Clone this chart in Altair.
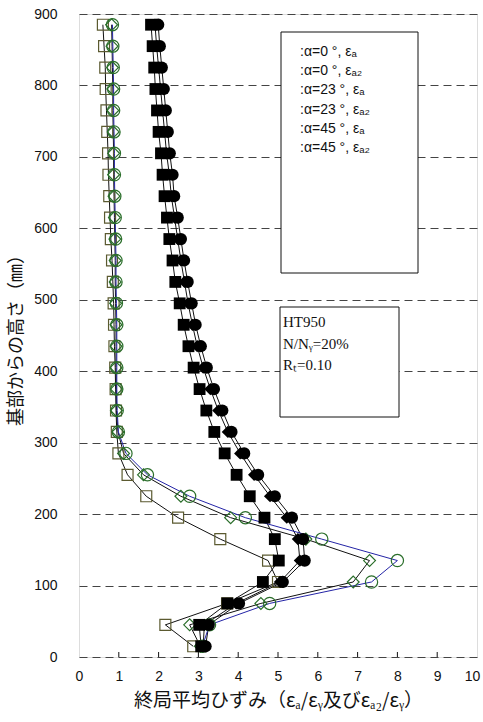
import altair as alt
import pandas as pd

# Gauge heights above the base (mm)
heights = [15, 45, 75, 105, 135, 165, 195, 225, 255, 285,
           315, 345, 375, 405, 435, 465, 495, 525, 555, 585,
           615, 645, 675, 705, 735, 765, 795, 825, 855, 885]

# Ultimate average strain ratios, one list per series (bottom -> top)
a0_ea = [3.07, 3.02, 3.73, 4.62, 5.02, 4.92, 4.66, 4.29, 3.96, 3.66,
         3.40, 3.20, 3.03, 2.88, 2.75, 2.63, 2.53, 2.42, 2.35, 2.27,
         2.21, 2.15, 2.10, 2.06, 2.00, 1.96, 1.92, 1.89, 1.85, 1.81]
a0_ea2 = [2.87, 2.17, 3.72, 5.00, 4.75, 3.55, 2.49, 1.69, 1.22, 0.99,
          0.95, 0.93, 0.92, 0.91, 0.89, 0.88, 0.87, 0.85, 0.83, 0.80,
          0.78, 0.76, 0.74, 0.73, 0.71, 0.69, 0.67, 0.66, 0.63, 0.60]
a23_ea = [3.12, 3.15, 3.95, 5.05, 5.55, 5.50, 5.22, 4.80, 4.40, 4.05,
          3.74, 3.50, 3.30, 3.12, 2.97, 2.85, 2.74, 2.65, 2.56, 2.48,
          2.40, 2.32, 2.27, 2.20, 2.15, 2.10, 2.05, 2.00, 1.95, 1.91]
a23_ea2 = [3.05, 2.78, 4.57, 6.89, 7.30, 5.70, 3.81, 2.56, 1.62, 1.12,
           0.98, 0.94, 0.94, 0.93, 0.93, 0.93, 0.92, 0.91, 0.91, 0.90,
           0.89, 0.88, 0.87, 0.87, 0.86, 0.85, 0.85, 0.84, 0.83, 0.82]
a45_ea = [3.18, 3.26, 4.02, 5.12, 5.67, 5.63, 5.35, 4.92, 4.50, 4.15,
          3.83, 3.60, 3.39, 3.21, 3.06, 2.93, 2.83, 2.73, 2.64, 2.56,
          2.48, 2.39, 2.35, 2.28, 2.23, 2.18, 2.13, 2.08, 2.03, 1.99]
a45_ea2 = [3.10, 3.28, 4.79, 7.35, 8.00, 6.10, 4.18, 2.78, 1.72, 1.18,
           0.99, 0.96, 0.95, 0.95, 0.95, 0.95, 0.94, 0.93, 0.93, 0.92,
           0.91, 0.90, 0.89, 0.89, 0.88, 0.87, 0.87, 0.86, 0.85, 0.84]

legend_labels = [":α=0 °, εₐ", ":α=0 °, εₐ₂", ":α=23 °, εₐ",
                 ":α=23 °, εₐ₂", ":α=45 °, εₐ", ":α=45 °, εₐ₂"]
note_lines = ["HT950", "N/Nᵧ=20%", "Rₜ=0.10"]
x_ticks = [0, 1, 2, 3, 4, 5, 6, 7, 8, 9, 10]
y_ticks = [0, 100, 200, 300, 400, 500, 600, 700, 800, 900]

# series -> (values, shape, filled, marker colour, line colour, size)
series = [
    ("a0_ea", a0_ea, "square", True, "#000000", "#111111", 140),
    ("a0_ea2", a0_ea2, "square", False, "#5b5a30", "#111111", 120),
    ("a23_ea", a23_ea, "diamond", True, "#000000", "#111111", 150),
    ("a23_ea2", a23_ea2, "diamond", False, "#2a6e2a", "#111111", 140),
    ("a45_ea", a45_ea, "circle", True, "#000000", "#111111", 150),
    ("a45_ea2", a45_ea2, "circle", False, "#2a6e2a", "#2424a6", 150),
]

rows = []
for name, vals, shape, filled, mcol, lcol, size in series:
    for h, v in zip(heights, vals):
        rows.append({"series": name, "height": h, "value": v, "shape": shape,
                     "filled": filled, "mcol": mcol, "lcol": lcol, "size": size})
df = pd.DataFrame(rows)

W, H = 398, 643
LABEL_FONT = "Liberation Sans"
CJK_FONT = "Noto Sans CJK JP"

x_scale = alt.Scale(domain=[0, 10], nice=False, zero=False)
y_scale = alt.Scale(domain=[0, 900], nice=False, zero=False)
x_axis = alt.Axis(values=x_ticks, format="d", grid=False, tickSize=0,
                  labelOverlap=False, labelFlush=False, labelBound=False,
                  labelOffset={"condition": {"test": "datum.value == 10", "value": -5},
                               "value": 0},
                  labelPadding=12, labelFontSize=14, labelFont=LABEL_FONT,
                  labelColor="#111", domain=False,
                  title="終局平均ひずみ（εₐ/εᵧ及びεₐ₂/εᵧ）",
                  titleFont=CJK_FONT, titleFontSize=19,
                  titleFontWeight="normal", titlePadding=8, titleColor="#111")
y_axis = alt.Axis(values=y_ticks, format="d", grid=True,
                  gridDash=[8, 5], gridColor="#444", gridWidth=1,
                  labelOverlap=False, labelFlush=False,
                  tickSize=0, labelPadding=22, labelFontSize=14,
                  labelFont=LABEL_FONT, labelColor="#111", domain=False,
                  title="基部からの高さ（㎜）", titleFont=CJK_FONT,
                  titleFontSize=18, titleFontWeight="normal",
                  titlePadding=8, titleColor="#111")

x_enc = alt.X("value:Q", scale=x_scale, axis=x_axis)
y_enc = alt.Y("height:Q", scale=y_scale, axis=y_axis)

base = alt.Chart(df)

lines = base.mark_line(strokeWidth=1).encode(
    x=x_enc, y=y_enc,
    detail="series:N",
    color=alt.Color("lcol:N", scale=None),
    order=alt.Order("height:Q"),
)

open_pts = base.transform_filter("!datum.filled").mark_point(
    filled=False, strokeWidth=1.2, opacity=1
).encode(
    x=x_enc, y=y_enc,
    shape=alt.Shape("shape:N", scale=None),
    color=alt.Color("mcol:N", scale=None),
    size=alt.Size("size:Q", scale=None),
)

filled_pts = base.transform_filter("datum.filled").mark_point(
    filled=True, opacity=1
).encode(
    x=x_enc, y=y_enc,
    shape=alt.Shape("shape:N", scale=None),
    color=alt.Color("mcol:N", scale=None),
    size=alt.Size("size:Q", scale=None),
)

# inside tick marks along the bottom axis
tick_df = pd.DataFrame({"value": x_ticks[1:-1]})
ticks = alt.Chart(tick_df).mark_rule(color="#111", strokeWidth=1).encode(
    x=x_enc, y=alt.value(H), y2=alt.value(H - 5)
)

one = pd.DataFrame({"k": [0]})

def box(x0, x1, y0, y1):
    return alt.Chart(one).mark_rect(fill="white", stroke="#111", strokeWidth=1).encode(
        x=alt.value(x0), x2=alt.value(x1), y=alt.value(y0), y2=alt.value(y1)
    )

def label(text, x, y, font, size):
    return alt.Chart(pd.DataFrame({"t": [text]})).mark_text(
        align="left", baseline="middle", font=font, fontSize=size, color="#111"
    ).encode(text="t:N", x=alt.value(x), y=alt.value(y))

layers = [lines, open_pts, filled_pts, ticks,
          box(202, 339, 18, 259), box(201, 320, 293, 403)]
for i, t in enumerate(legend_labels):
    layers.append(label(t, 221, 38 + i * 19.2, LABEL_FONT, 14))
for i, t in enumerate(note_lines):
    layers.append(label(t, 204, 308 + i * 21.5, "Liberation Serif", 15))

chart = alt.layer(*layers).properties(
    width=W, height=H,
    autosize=alt.AutoSizeParams(type="none"),
    padding={"left": 79, "top": 14, "right": 6, "bottom": 65},
).configure_view(stroke="#000", strokeWidth=2).configure(background="white")

chart.save("out.html", embed_options={"renderer": "svg", "actions": False})
